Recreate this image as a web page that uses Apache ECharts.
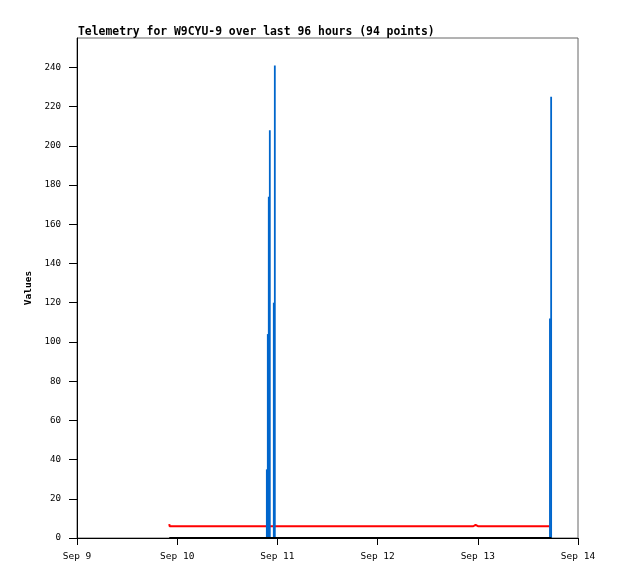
<!DOCTYPE html>
<html>
<head>
<meta charset="utf-8">
<script src="https://cdn.jsdelivr.net/npm/echarts@6/dist/echarts.min.js"></script>
<style>html,body{margin:0;padding:0;background:#fff;}#c{width:618px;height:579px;}</style>
</head>
<body>
<div id="c"></div>
<script>
// Data (times are "day hh:mm" in September, UTC)
var xTickLabels = ['Sep 9', 'Sep 10', 'Sep 11', 'Sep 12', 'Sep 13', 'Sep 14'];
var yTicks = [0, 20, 40, 60, 80, 100, 120, 140, 160, 180, 200, 220, 240];

var redTimes  = ['09 22:06', '09 22:12', '12 22:55', '12 23:28', '13 00:02', '13 17:12'];
var redValues = [7.1, 6, 6, 6.7, 6, 6];

var blueTimes  = ['10 21:28', '10 21:42', '10 21:56', '10 22:11', '10 23:08', '10 23:23', '13 17:17', '13 17:34'];
var blueValues = [35, 104, 174, 208, 120, 241, 112, 225];

var blackTimes  = ['09 22:06', '13 17:39'];
var blackValues = [0, 0];

function ts(s) {
  var d = parseInt(s.slice(0, 2), 10);
  var h = parseInt(s.slice(3, 5), 10);
  var m = parseInt(s.slice(6, 8), 10);
  return Date.UTC(2024, 8, d, h, m);
}
function pairs(times, vals) {
  return times.map(function (t, i) { return [ts(t), vals[i]]; });
}
var DAY = 86400000;
var xMin = Date.UTC(2024, 8, 9);
var xMax = Date.UTC(2024, 8, 14);

var chart = echarts.init(document.getElementById('c'), null, {renderer: 'canvas'});
chart.setOption({
  animation: false,
  backgroundColor: '#fff',
  title: {
    text: 'Telemetry for W9CYU-9 over last 96 hours (94 points)',
    left: 73, top: 22,
    textStyle: {fontFamily: 'DejaVu Sans Mono', fontWeight: 'bold', fontSize: 11.4, color: '#000'}
  },
  grid: {left: 77, right: 40, top: 38, bottom: 41, show: true, borderColor: '#666', borderWidth: 1},
  xAxis: {
    type: 'value', min: xMin, max: xMax, interval: DAY,
    axisLine: {lineStyle: {color: '#000', width: 1}},
    axisTick: {show: true, length: 7, lineStyle: {color: '#000'}},
    splitLine: {show: false},
    axisLabel: {
      margin: 14, color: '#000', fontFamily: 'DejaVu Sans Mono', fontSize: 9.5,
      formatter: function (v) { return xTickLabels[Math.round((v - xMin) / DAY)]; }
    }
  },
  yAxis: {
    type: 'value', min: 0, max: 255,
    name: 'Values', nameLocation: 'middle', nameGap: 38, nameRotate: 90,
    nameTextStyle: {fontFamily: 'DejaVu Sans Mono', fontWeight: 'bold', fontSize: 9.5, color: '#000'},
    axisLine: {show: true, lineStyle: {color: '#000', width: 1}},
    axisTick: {show: true, length: 8, lineStyle: {color: '#000'}, customValues: yTicks},
    splitLine: {show: false},
    axisLabel: {margin: 16, color: '#000', fontFamily: 'DejaVu Sans Mono', fontSize: 9.2, customValues: yTicks}
  },
  series: [
    {type: 'line', data: pairs(redTimes, redValues), showSymbol: false, lineStyle: {color: '#ff0000', width: 2}, z: 2},
    {type: 'bar', data: pairs(blueTimes, blueValues), barWidth: 1.8, itemStyle: {color: '#0066cc'}, z: 3},
    {type: 'line', data: pairs(blackTimes, blackValues), showSymbol: false, lineStyle: {color: '#000', width: 2}, z: 4}
  ]
});
</script>
</body>
</html>
